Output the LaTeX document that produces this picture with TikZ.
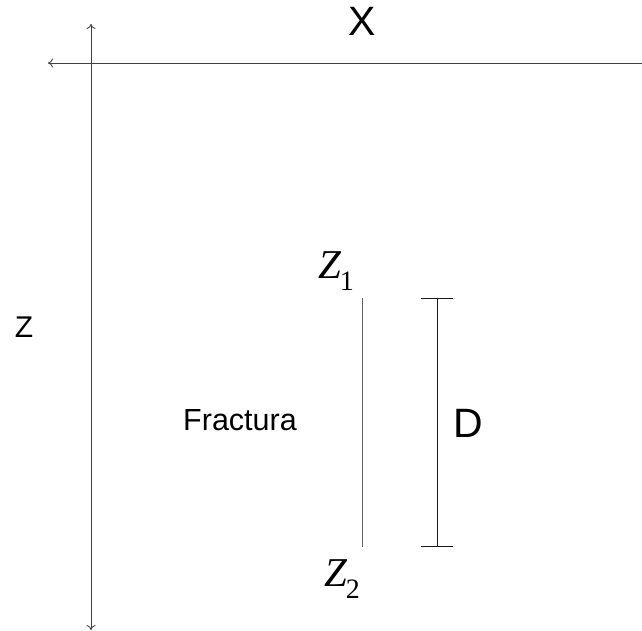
\documentclass[tikz,border=0pt]{standalone}
\usepackage{fontspec}
\setmainfont{Liberation Sans}
\newfontfamily\timesfont{Liberation Serif}
\usetikzlibrary{arrows.meta}
% Z with a subscript, set in Times
\newcommand\zsub[1]{{\itshape Z}\kern-1pt\raisebox{-12pt}{\fontsize{28}{30}\selectfont #1}}

\begin{document}
\begin{tikzpicture}[x=1pt, y=-1pt,
    axis/.style={black!75, line width=0.9pt},
    bigtext/.style={font=\fontsize{41}{44}\selectfont, inner sep=0pt},
    midtext/.style={font=\fontsize{30}{34}\selectfont, inner sep=0pt},
    smalltext/.style={font=\fontsize{30.5}{34}\selectfont, inner sep=0pt},
    zlabel/.style={font=\timesfont\fontsize{41}{44}\selectfont, inner sep=0pt}]
        \useasboundingbox (0,0) rectangle (642,631);

        % axes
        \coordinate (ztop) at (91,24);
        \coordinate (zbot) at (91,630);
        \coordinate (xleft) at (48,63);
        \coordinate (xright) at (642,63);
        \draw[axis, {To[length=5pt,width=9pt]}-{To[length=5pt,width=9pt]}] (ztop) -- (zbot);
        \draw[axis, {To[length=5pt,width=9pt]}-] (xleft) -- (xright);
        \node[bigtext] (xlab) at (362,21) {X};
        \node[midtext] (zlab) at (24,327) {Z};

        % fracture
        \coordinate (f1) at (362,298);
        \coordinate (f2) at (362,547);
        \draw[black!60, line width=1pt] (f1) -- (f2);
        \node[smalltext] (frac) at (240,420) {Fractura};
        \node[zlabel, anchor=base] (z1) at (336,278) {\zsub{1}};
        \node[zlabel, anchor=base] (z2) at (342,586) {\zsub{2}};

        % length D
        \coordinate (d1) at (437,298);
        \coordinate (d2) at (437,547);
        \draw[black!90, line width=1pt, {Bar[width=32pt]}-{Bar[width=32pt]}] (d1) -- (d2);
        \node[bigtext] (dlab) at (468,423) {D};
\end{tikzpicture}
\end{document}
